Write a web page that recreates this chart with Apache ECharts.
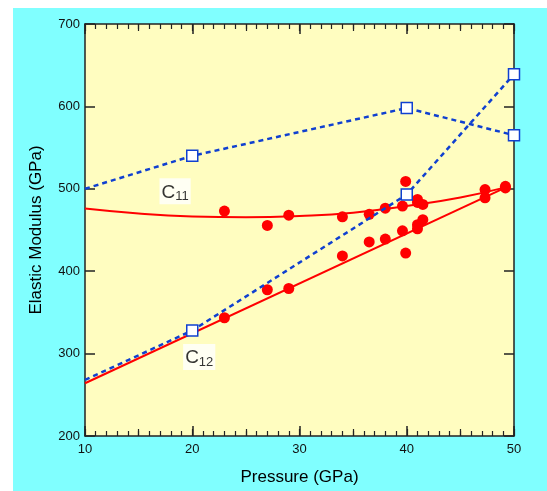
<!DOCTYPE html>
<html>
<head>
<meta charset="utf-8">
<script src="https://cdn.jsdelivr.net/npm/echarts@6/dist/echarts.min.js"></script>
<style>
  html, body { margin: 0; padding: 0; background: #fff; }
  #chart { width: 547px; height: 491px; }
</style>
</head>
<body>
<div id="chart"></div>
<script>
  // pressure (GPa) / elastic modulus (GPa)
  const c11CalcP = [10, 20, 40, 50]
  const c11Calc = [500, 540, 598, 565]
  const c12CalcP = [10, 20, 40, 50]
  const c12Calc = [268, 328, 493, 639]

  const c11FitP = [10, 15, 20, 25, 30, 35, 40, 45, 49.3]
  const c11Fit = [476, 470, 466.5, 465.5, 467, 471, 479, 489.5, 502]
  const c12FitP = [10, 49.3]
  const c12Fit = [264, 502]

  const c11ExpP = [23, 27, 29, 34, 36.5, 38, 39.9, 39.6, 41, 41, 41.5, 47.3, 49.2, 49.2]
  const c11Exp = [473, 455.5, 468, 466, 469, 476.5, 509, 479, 487, 483.5, 481, 499, 501, 503]
  const c12ExpP = [23, 27, 29, 34, 36.5, 38, 39.6, 39.9, 41, 41, 41.5, 47.3]
  const c12Exp = [343.5, 377.5, 379, 418.5, 435.5, 439, 449, 422, 456.5, 451.5, 462.5, 489]

  const zip = (xs, ys) => xs.map((x, i) => [x, ys[i]])

  const font = 'Liberation Sans, Arial, sans-serif'
  const ink = '#222'
  const frame = { show: true, lineStyle: { color: ink, width: 1.5 } }
  const bigTick = { show: true, inside: true, length: 10, lineStyle: { color: ink, width: 1.5 } }
  const midTick = { show: true, inside: true, length: 7, lineStyle: { color: ink, width: 1.2 } }
  const smallTick = { show: true, splitNumber: 10, length: 5, lineStyle: { color: ink, width: 1.2 } }

  const xBase = { type: 'value', min: 10, max: 50, gridIndex: 0 }
  const yBase = { type: 'value', min: 200, max: 700, interval: 100 }

  const subLabel = (main, sub) => ({
    show: true,
    position: 'inside',
    formatter: `{m|${main}}{s|${sub}}`,
    backgroundColor: '#fff',
    padding: [3, 2, 1, 2],
    rich: {
      m: { fontSize: 19, color: '#000', fontFamily: font, lineHeight: 22 },
      s: { fontSize: 13, color: '#000', fontFamily: font, padding: [9, 0, 0, 0], lineHeight: 22 },
    },
  })

  const EChart = echarts.init(document.getElementById('chart'))
  const option = {
    animation: false,
    graphic: [
      {
        type: 'rect',
        z: -10,
        shape: { x: 13, y: 8, width: 547, height: 491 },
        style: { fill: '#80ffff' },
      },
    ],
    grid: {
      left: 85, right: 33, top: 24, bottom: 53,
      show: true, backgroundColor: '#fffdc0', borderWidth: 0,
    },
    xAxis: [
      {
        ...xBase,
        position: 'bottom',
        interval: 10,
        axisLine: frame,
        axisTick: bigTick,
        minorTick: smallTick,
        splitLine: { show: false },
        axisLabel: { color: '#111', fontSize: 13, fontFamily: font, margin: 7 },
        name: 'Pressure (GPa)',
        nameLocation: 'middle',
        nameGap: 33,
        nameTextStyle: { fontSize: 17, color: '#000', fontFamily: font },
      },
      {
        ...xBase,
        position: 'bottom',
        interval: 5,
        axisLine: { show: false },
        axisTick: midTick,
        splitLine: { show: false },
        axisLabel: { show: false },
      },
      {
        ...xBase,
        position: 'top',
        interval: 10,
        axisLine: frame,
        axisTick: bigTick,
        minorTick: smallTick,
        splitLine: { show: false },
        axisLabel: { show: false },
      },
      {
        ...xBase,
        position: 'top',
        interval: 5,
        axisLine: { show: false },
        axisTick: midTick,
        splitLine: { show: false },
        axisLabel: { show: false },
      },
    ],
    yAxis: [
      {
        ...yBase,
        position: 'left',
        axisLine: frame,
        axisTick: bigTick,
        splitLine: { show: false },
        axisLabel: { color: '#111', fontSize: 13, fontFamily: font, margin: 5 },
        name: 'Elastic Modulus (GPa)',
        nameLocation: 'middle',
        nameGap: 40,
        nameTextStyle: { fontSize: 17, color: '#000', fontFamily: font },
      },
      {
        ...yBase,
        position: 'right',
        axisLine: frame,
        axisTick: bigTick,
        splitLine: { show: false },
        axisLabel: { show: false },
      },
    ],
    series: [
      {
        name: 'C11 fit',
        type: 'line',
        smooth: true,
        showSymbol: false,
        lineStyle: { color: '#ff0000', width: 2 },
        data: zip(c11FitP, c11Fit),
        z: 2,
      },
      {
        name: 'C12 fit',
        type: 'line',
        showSymbol: false,
        lineStyle: { color: '#ff0000', width: 2 },
        data: zip(c12FitP, c12Fit),
        z: 2,
      },
      {
        name: 'C11 exp',
        type: 'scatter',
        symbol: 'circle',
        symbolSize: 11,
        itemStyle: { color: '#ff0000', opacity: 1 },
        data: zip(c11ExpP, c11Exp),
        z: 3,
      },
      {
        name: 'C12 exp',
        type: 'scatter',
        symbol: 'circle',
        symbolSize: 11,
        itemStyle: { color: '#ff0000', opacity: 1 },
        data: zip(c12ExpP, c12Exp),
        z: 3,
      },
      {
        name: 'C11 calc',
        type: 'line',
        symbol: 'rect',
        symbolSize: 11,
        showAllSymbol: true,
        lineStyle: { color: '#1040d0', width: 2.5, type: [5, 4] },
        itemStyle: { color: '#fff', borderColor: '#1040d0', borderWidth: 1.5 },
        data: zip(c11CalcP, c11Calc).map((d, i) => (i === 0 ? { value: d, symbol: 'none' } : d)),
        z: 4,
      },
      {
        name: 'C12 calc',
        type: 'line',
        symbol: 'rect',
        symbolSize: 11,
        showAllSymbol: true,
        lineStyle: { color: '#1040d0', width: 2.5, type: [5, 4] },
        itemStyle: { color: '#fff', borderColor: '#1040d0', borderWidth: 1.5 },
        data: zip(c12CalcP, c12Calc).map((d, i) => (i === 0 ? { value: d, symbol: 'none' } : d)),
        z: 4,
      },
      {
        name: 'labels',
        type: 'scatter',
        symbolSize: 0,
        silent: true,
        data: [
          { value: [18.4, 497], label: subLabel('C', '11') },
          { value: [20.65, 296], label: subLabel('C', '12') },
        ],
        z: 5,
      },
    ],
  }
  EChart.setOption(option)
</script>
</body>
</html>
